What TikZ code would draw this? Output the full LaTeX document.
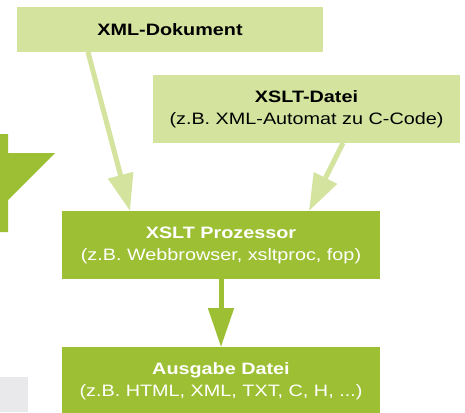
\documentclass[tikz,border=0pt]{standalone}
\usepackage{fontspec}
\setmainfont[FakeStretch=1.2]{Liberation Sans}
\usetikzlibrary{arrows.meta}
\definecolor{lightg}{HTML}{D4E39E}
\definecolor{darkg}{HTML}{9CBF34}
\definecolor{grayb}{HTML}{E9E9EB}
\begin{document}
\begin{tikzpicture}[x=1pt,y=-1pt,
  box/.style={rectangle, inner sep=0pt, outer sep=0pt, anchor=north west, align=center,
    font=\fontsize{16.5}{22}\selectfont},
  lbox/.style={box, fill=lightg, text=black},
  dbox/.style={box, fill=darkg, text=white},
  lconn/.style={draw=lightg, line width=5pt, -{Triangle[length=37pt,width=25pt]}},
  dconn/.style={draw=darkg, line width=5pt, -{Triangle[length=39pt,width=25pt]}}]
\useasboundingbox[fill=white] (0,0) rectangle (465,412);
\clip (0,0) rectangle (465,412);
% left decoration
\fill[darkg] (0,134) -- (8,134) -- (8,153) -- (55,153) -- (8,200) -- (8,232) -- (0,232) -- cycle;
\fill[grayb] (0,377) rectangle (28,412);
% boxes
\node[lbox, minimum width=306pt, minimum height=45pt] (xml) at (17,7) {\bfseries XML-Dokument};
\node[lbox, minimum width=307pt, minimum height=68pt] (xslt) at (153,75)
  {\bfseries XSLT-Datei\\(z.B. XML-Automat zu C-Code)};
\node[dbox, minimum width=318pt, minimum height=68pt] (proc) at (62,211)
  {\bfseries XSLT Prozessor\\(z.B. Webbrowser, xsltproc, fop)};
\node[dbox, minimum width=318pt, minimum height=68pt] (out) at (62,347)
  {\bfseries Ausgabe Datei\\(z.B. HTML, XML, TXT, C, H, ...)};
% connectors
\draw[lconn] ([xshift=71pt]xml.south west) -- ([xshift=68pt]proc.north west);
\draw[lconn] ([xshift=190pt]xslt.south west) -- ([xshift=247pt]proc.north west);
\draw[dconn] (proc.south) -- (out.north);
\end{tikzpicture}
\end{document}
